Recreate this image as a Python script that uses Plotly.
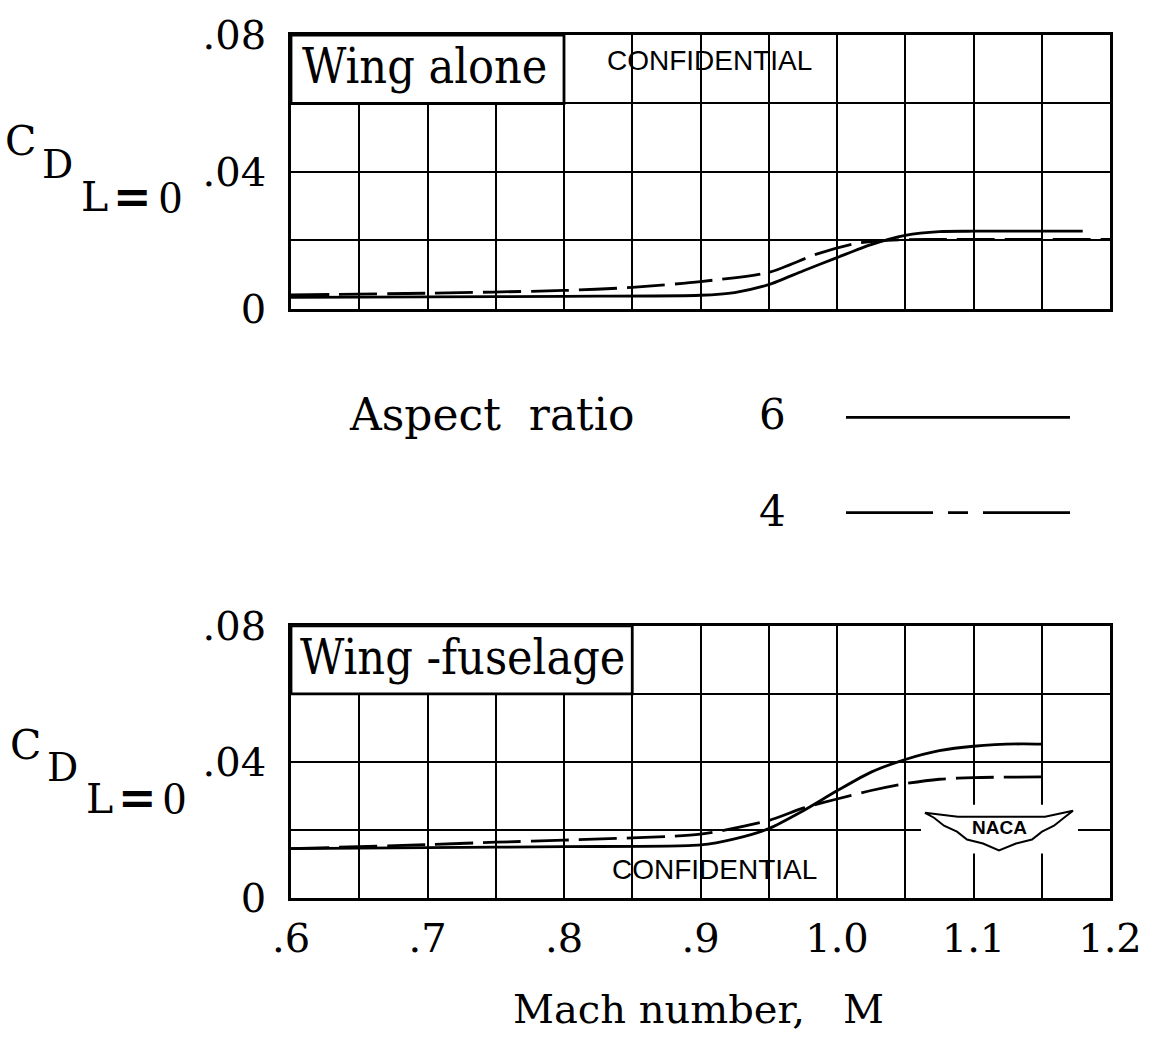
import plotly.graph_objects as go

# ---------------- data ----------------
# Wing alone, aspect ratio 6 (solid) and 4 (dashed)
mach_wing_ar6 = [0.60, 0.70, 0.80, 0.90, 0.925, 0.95, 0.975, 1.00, 1.025, 1.05, 1.075, 1.10, 1.18]
cd_wing_ar6 = [0.0034, 0.0035, 0.0037, 0.0040, 0.0048, 0.0071, 0.0111, 0.0150, 0.0188, 0.0215, 0.0226, 0.0227, 0.0227]
mach_wing_ar4 = [0.60, 0.70, 0.80, 0.85, 0.90, 0.95, 0.985, 1.015, 1.045, 1.08, 1.20]
cd_wing_ar4 = [0.0041, 0.0046, 0.0054, 0.0063, 0.0080, 0.0107, 0.0160, 0.0192, 0.0202, 0.0203, 0.0203]

# Wing-fuselage
mach_wf_ar6 = [0.60, 0.70, 0.80, 0.90, 0.925, 0.95, 0.975, 1.00, 1.025, 1.05, 1.075, 1.10, 1.135, 1.15]
cd_wf_ar6 = [0.0145, 0.0148, 0.0151, 0.0156, 0.0174, 0.0204, 0.0256, 0.0315, 0.0370, 0.0407, 0.0433, 0.0446, 0.0453, 0.0452]
mach_wf_ar4 = [0.60, 0.70, 0.75, 0.80, 0.90, 0.95, 0.975, 1.00, 1.025, 1.05, 1.075, 1.10, 1.15]
cd_wf_ar4 = [0.0145, 0.0157, 0.0164, 0.0170, 0.0188, 0.0228, 0.0264, 0.0291, 0.0316, 0.0336, 0.0349, 0.0354, 0.0356]

x_tickvals = [0.60, 0.65, 0.70, 0.75, 0.80, 0.85, 0.90, 0.95, 1.00, 1.05, 1.10, 1.15, 1.20]
x_ticktext = [".6", "", ".7", "", ".8", "", ".9", "", "1.0", "", "1.1", "", "1.2"]
y_tickvals = [0, 0.02, 0.04, 0.06, 0.08]
y_ticktext = ["0", "", ".04", "", ".08"]

panel_titles = ["Wing alone", "Wing -fuselage"]
legend_labels = ["6", "4"]

# ---------------- layout helpers ----------------
W, H = 1154, 1043
ML, MR, MT, MB = 291, 44, 27, 145
PW, PH = W - ML - MR, H - MT - MB


def px(xp):
    return (xp - ML) / PW


def py(yp):
    return (H - MB - yp) / PH


SERIF = "DejaVu Serif"
SERIF_C = "DejaVu Serif Condensed, DejaVu Serif"
SANS = "Liberation Sans"
LW = 2.8
DASH = "38px,10px"

fig = go.Figure()
fig.add_trace(go.Scatter(x=mach_wing_ar6, y=cd_wing_ar6, mode="lines", xaxis="x", yaxis="y",
                         line=dict(color="black", width=LW, shape="spline", smoothing=0.7)))
fig.add_trace(go.Scatter(x=mach_wing_ar4, y=cd_wing_ar4, mode="lines", xaxis="x", yaxis="y",
                         line=dict(color="black", width=LW, dash=DASH, shape="spline", smoothing=0.7)))
fig.add_trace(go.Scatter(x=mach_wf_ar6, y=cd_wf_ar6, mode="lines", xaxis="x2", yaxis="y2",
                         line=dict(color="black", width=LW, shape="spline", smoothing=0.7)))
fig.add_trace(go.Scatter(x=mach_wf_ar4, y=cd_wf_ar4, mode="lines", xaxis="x2", yaxis="y2",
                         line=dict(color="black", width=LW, dash=DASH, shape="spline", smoothing=0.7)))

axis_common = dict(showgrid=True, gridcolor="black", gridwidth=2.2, showline=True, mirror=True,
                   linecolor="black", linewidth=2.8, zeroline=False, ticks="")

top_dom = [py(303.5), 1.0]
bot_dom = [0.0, py(623.3)]
tick_font = dict(family=SERIF, size=40, color="black")

fig.update_layout(
    width=W, height=H, margin=dict(l=ML, r=MR, t=MT, b=MB, pad=0),
    paper_bgcolor="white", plot_bgcolor="white", showlegend=False,
    xaxis=dict(domain=[0, 1], range=[0.6, 1.2], anchor="y", tickvals=x_tickvals,
               showticklabels=False, **axis_common),
    yaxis=dict(domain=top_dom, range=[0, 0.08], anchor="x", tickvals=y_tickvals, ticktext=y_ticktext,
               tickfont=tick_font, ticklabelstandoff=14, **axis_common),
    xaxis2=dict(domain=[0, 1], range=[0.6, 1.2], anchor="y2", tickvals=x_tickvals, ticktext=x_ticktext,
                tickfont=tick_font, ticklabelstandoff=3, **axis_common),
    yaxis2=dict(domain=bot_dom, range=[0, 0.08], anchor="x2", tickvals=y_tickvals, ticktext=y_ticktext,
                tickfont=tick_font, ticklabelstandoff=14, **axis_common),
)

shapes = []
annotations = []


def label(text, x, y, size, family=SERIF):
    annotations.append(dict(text=text, xref="paper", yref="paper", x=px(x), y=py(y),
                            xanchor="center", yanchor="middle", showarrow=False,
                            font=dict(family=family, size=size, color="black")))


# Title boxes in the top row of each panel
shapes.append(dict(type="rect", xref="x", yref="y", x0=0.6, x1=0.8, y0=0.06, y1=0.08,
                   fillcolor="white", line=dict(color="black", width=2.8), layer="above"))
shapes.append(dict(type="rect", xref="x2", yref="y2", x0=0.6, x1=0.85, y0=0.06, y1=0.08,
                   fillcolor="white", line=dict(color="black", width=2.8), layer="above"))
label(panel_titles[0], 424, 58, 48, SERIF_C)
label(panel_titles[1], 462, 655, 48, SERIF_C)

# CONFIDENTIAL stamps
label("CONFIDENTIAL", 709, 53, 28, SANS)
label("CONFIDENTIAL", 714, 869, 28, SANS)

# y axis titles  C_D_{L=0}
for (cx, cy), (dx, dy), (lx, ly), (ex, ey), (ox, oy) in [
    ((20, 134), (57, 158), (94, 191), (132, 190), (170, 191)),
    ((25, 744), (62, 766), (99, 798), (137, 797), (174, 798)),
]:
    label("C", cx, cy, 41)
    label("D", dx, dy, 39)
    label("L", lx, ly, 41)
    label("<b>=</b>", ex, ey, 46)
    label("0", ox, oy, 46, "Liberation Serif")

# x axis title
label("Mach number,&nbsp;&nbsp;&nbsp;M", 698, 1010, 40)

# Legend block
label("Aspect&nbsp;&nbsp;ratio", 491, 410, 44)
label(legend_labels[0], 772, 410, 42)
label(legend_labels[1], 772, 508, 42)
shapes.append(dict(type="line", xref="paper", yref="paper", x0=px(846), x1=px(1070), y0=py(413), y1=py(413),
                   line=dict(color="black", width=LW)))
shapes.append(dict(type="line", xref="paper", yref="paper", x0=px(846), x1=px(1070), y0=py(509), y1=py(509),
                   line=dict(color="black", width=LW, dash="87px,15px,20px,15px,87px,20px")))

# NACA wings emblem (decoration) - blank the grid behind it first
shapes.append(dict(type="rect", xref="paper", yref="paper", x0=px(921), x1=px(1078), y0=py(853), y1=py(804),
                   fillcolor="white", line=dict(width=0), layer="above"))
emblem = [(925, 812), (958, 816), (1045, 816), (1073, 810), (1064, 817), (1054, 825), (1042, 831),
          (1032, 839), (1016, 843), (999, 850), (983, 843), (967, 839), (957, 831), (944, 825), (934, 817)]
path = "M " + " L ".join(f"{px(a):.5f} {py(b):.5f}" for a, b in emblem) + " Z"
shapes.append(dict(type="path", xref="paper", yref="paper", path=path, fillcolor="white",
                   line=dict(color="black", width=2), layer="above"))
label("<b>NACA</b>", 999, 827, 19, SANS)

fig.update_layout(shapes=shapes, annotations=annotations)
fig.write_html("out.html")
